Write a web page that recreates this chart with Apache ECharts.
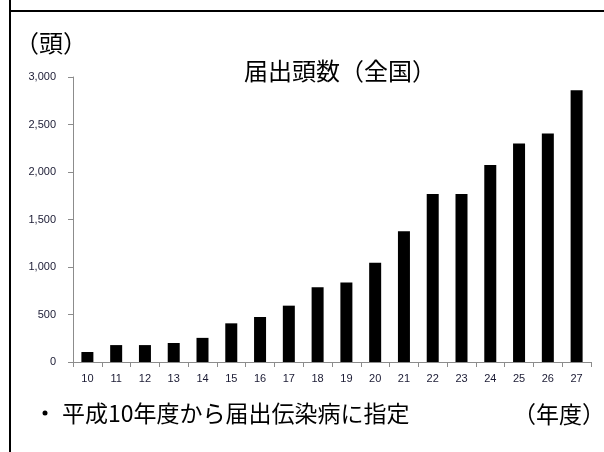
<!DOCTYPE html>
<html><head><meta charset="utf-8">
<script src="https://cdn.jsdelivr.net/npm/echarts@6/dist/echarts.min.js"></script>
<style>html,body{margin:0;padding:0;background:#fff}#c{width:604px;height:452px}</style>
</head><body><div id="c"></div>
<script>
const categories = ['10','11','12','13','14','15','16','17','18','19','20','21','22','23','24','25','26','27'];
const counts = [105, 178, 178, 200, 254, 407, 474, 593, 786, 836, 1046, 1376, 1768, 1768, 2074, 2301, 2406, 2861];
const yTicks = [0, 500, 1000, 1500, 2000, 2500, 3000];

const chart = echarts.init(document.getElementById('c'), null, {renderer: 'canvas'});
const jp = '"Noto Sans CJK JP", sans-serif';
const num = '"Liberation Sans", "DejaVu Sans", sans-serif';
chart.setOption({
  animation: false,
  backgroundColor: '#fff',
  grid: {left: 73, right: 13, top: 77, bottom: 90, containLabel: false},
  xAxis: {
    type: 'category', data: categories,
    axisLine: {lineStyle: {color: '#8c8c8c', width: 1}},
    axisTick: {show: true, length: 5, lineStyle: {color: '#8c8c8c'}},
    axisLabel: {fontFamily: num, fontSize: 11, color: '#1a1a33', margin: 11}
  },
  yAxis: {
    type: 'value', min: yTicks[0], max: yTicks[yTicks.length-1], interval: 500,
    splitLine: {show: false},
    axisLine: {show: true, lineStyle: {color: '#8c8c8c', width: 1}},
    axisTick: {show: true, length: 5, lineStyle: {color: '#8c8c8c'}},
    axisLabel: {fontFamily: num, fontSize: 11, color: '#1a1a33', margin: 17,
      formatter: v => v.toLocaleString('en-US')}
  },
  series: [{type: 'bar', data: counts, barWidth: 12,
    itemStyle: {color: '#000'}}],
  graphic: [
    {type: 'line', shape: {x1: 10, y1: 0, x2: 10, y2: 452}, style: {stroke: '#000', lineWidth: 2}},
    {type: 'line', shape: {x1: 9, y1: 11, x2: 604, y2: 11}, style: {stroke: '#000', lineWidth: 2}},
    {type: 'text', x: 340, y: 71, style: {text: '届出頭数（全国）', font: '24px ' + jp, fill: '#000', align: 'center', verticalAlign: 'middle'}},
    {type: 'text', x: 15, y: 43, style: {text: '（頭）', font: '24px ' + jp, fill: '#000', verticalAlign: 'middle'}},
    {type: 'circle', shape: {cx: 45, cy: 413, r: 2.5}, style: {fill: '#000'}},
    {type: 'text', x: 62, y: 413, style: {text: '平成10年度から届出伝染病に指定', font: '23px ' + jp, fill: '#000', verticalAlign: 'middle'}},
    {type: 'text', x: 513, y: 414, style: {text: '（年度）', font: '23px ' + jp, fill: '#000', verticalAlign: 'middle'}}
  ]
});
</script></body></html>
